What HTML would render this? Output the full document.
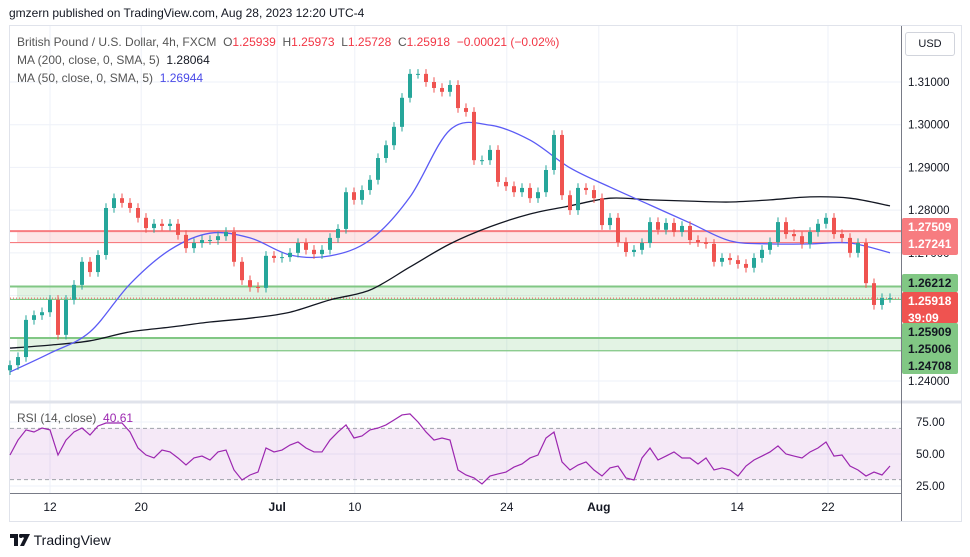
<!DOCTYPE html>
<html><head><meta charset="utf-8"><style>
body{margin:0;width:970px;height:557px;background:#fff;font-family:"Liberation Sans",sans-serif;overflow:hidden;position:relative}
.t{position:absolute;white-space:nowrap}
</style></head><body>
<div class="t" style="left:9px;top:6px;font-size:12px;color:#131722">gmzern published on TradingView.com, Aug 28, 2023 12:20 UTC-4</div>
<svg id="c" width="970" height="557" style="position:absolute;left:0;top:0" font-family="Liberation Sans, sans-serif"></svg>
<div class="t" style="left:17px;top:35px;font-size:12px;color:#555">British Pound / U.S. Dollar, 4h, FXCM&nbsp; O<span style="color:#f23645">1.25939</span>&nbsp; H<span style="color:#f23645">1.25973</span>&nbsp; L<span style="color:#f23645">1.25728</span>&nbsp; C<span style="color:#f23645">1.25918</span>&nbsp; <span style="color:#f23645">−0.00021 (−0.02%)</span></div>
<div class="t" style="left:17px;top:53px;font-size:12px;color:#555">MA (200, close, 0, SMA, 5)&nbsp; <span style="color:#131722">1.28064</span></div>
<div class="t" style="left:17px;top:71px;font-size:12px;color:#555">MA (50, close, 0, SMA, 5)&nbsp; <span style="color:#4a4ae8">1.26944</span></div>
<div class="t" style="left:17px;top:411px;font-size:12px;color:#555">RSI (14, close)&nbsp; <span style="color:#9c27b0">40.61</span></div>
<div class="t" style="left:905px;top:32px;width:48px;height:22px;border:1px solid #d1d4dc;border-radius:3px;font-size:11px;line-height:22px;text-align:center;color:#131722">USD</div>
<div class="t" style="left:10px;top:532px;font-size:14px;color:#131722"><svg width="20" height="12" style="vertical-align:-1px"><path d="M0 0H8V12H4V4H0Z M9 0 H20 L14 12 H10 L14 4 Z" fill="#131722"/><circle cx="11" cy="2" r="2" fill="#131722"/></svg> TradingView</div>
<script>
const closes=[1.2437,1.2456,1.2543,1.2554,1.2561,1.2590,1.2508,1.2590,1.2625,1.2679,1.2655,1.2695,1.2805,1.2828,1.2817,1.2805,1.2782,1.2758,1.2768,1.2763,1.2768,1.2742,1.2711,1.2723,1.2730,1.2730,1.2739,1.2749,1.2679,1.2636,1.2620,1.2618,1.2693,1.2688,1.2690,1.2700,1.2723,1.2707,1.2697,1.2707,1.2735,1.2756,1.2842,1.2824,1.2847,1.2871,1.2922,1.2952,1.2995,1.3063,1.3119,1.3119,1.3100,1.3086,1.3077,1.3093,1.3039,1.3030,1.2917,1.2917,1.2941,1.2866,1.2856,1.2842,1.2852,1.2828,1.2842,1.2894,1.2976,1.2835,1.2800,1.2852,1.2847,1.2828,1.2765,1.2782,1.2725,1.2702,1.2707,1.2723,1.2772,1.2754,1.2770,1.2749,1.2763,1.2730,1.2725,1.2721,1.2679,1.2688,1.2683,1.2674,1.2665,1.2688,1.2707,1.2725,1.2772,1.2744,1.2739,1.2721,1.2749,1.2768,1.2782,1.2744,1.2735,1.2700,1.2723,1.2629,1.2578,1.2594,1.2594];
const maStep=5;
const ma50=[1.2421,1.2465,1.2515,1.2627,1.2707,1.2746,1.2735,1.2695,1.2693,1.2730,1.2831,1.2988,1.2999,1.2964,1.2899,1.2854,1.2812,1.2770,1.2728,1.2721,1.2721,1.2723,1.2700];
const ma200=[1.2477,1.2484,1.2494,1.2515,1.2526,1.2538,1.2547,1.2561,1.2590,1.2613,1.2667,1.2721,1.2761,1.2791,1.2810,1.2828,1.2824,1.2821,1.2819,1.2824,1.2831,1.2828,1.2810];
const rsi=[49.2,60.9,68.8,67.2,70.3,68.8,49.2,60.9,67.2,70.3,64.8,71.9,74.2,74.2,74.2,67.2,54.7,49.2,46.9,53.1,51.6,46.9,41.4,46.9,48.4,45.3,51.6,53.1,37.5,29.7,33.6,35.9,54.7,51.6,53.1,57.0,59.4,54.7,51.6,51.6,60.9,67.2,72.7,62.5,64.1,68.8,70.3,72.7,76.6,80.5,81.3,75.0,67.2,60.9,62.5,60.9,37.5,33.6,31.3,26.6,32.8,34.4,35.9,39.8,42.2,46.9,49.2,62.5,67.2,43.8,37.5,41.4,43.8,37.5,32.8,39.1,40.6,31.3,29.7,46.9,54.7,45.3,48.4,51.6,46.9,46.9,42.2,46.9,37.5,39.1,37.5,32.8,40.6,45.3,48.4,51.6,56.3,50.0,48.4,46.9,51.6,54.7,59.4,48.4,49.2,40.6,37.5,32.8,35.9,33.6,40.6];
const dateLabels=["12","20","Jul","10","24","Aug","14","22"];
const datePos=[5,16.4,33.4,43.1,62.1,73.6,90.9,102.25];
const priceTicks=[1.24,1.25,1.26,1.27,1.28,1.29,1.30,1.31];
const rsiTicks=[75,50,25];
const zones=[[1.27241,1.27509,"#f77c80","rgba(247,124,128,0.2)"],[1.25909,1.26212,"#81c784","rgba(129,199,132,0.22)"],[1.24708,1.25006,"#81c784","rgba(129,199,132,0.22)"]];

const NS="http://www.w3.org/2000/svg",svg=document.getElementById('c');
function el(t,a,p){const e=document.createElementNS(NS,t);for(const k in a)e.setAttribute(k,a[k]);(p||svg).appendChild(e);return e;}
const X=i=>10+8*i, Y=p=>82+(1.31-p)*4271, R=v=>422+(75-v)*1.28;
const PR=901;
let f=el('rect',{x:9.5,y:25.5,width:952,height:496,fill:'none',stroke:'#e0e3eb'});


priceTicks.forEach(p=>{const g=el('line',{x1:10,x2:PR,y1:Y(p),y2:Y(p),stroke:'#eef1f8'});

});
rsiTicks.forEach(v=>{const g=el('line',{x1:10,x2:PR,y1:R(v),y2:R(v),stroke:'#eef1f8'});

});
datePos.forEach(d=>{const g=el('line',{x1:X(d),x2:X(d),y1:26,y2:493,stroke:'#eef1f8'});

});
zones.forEach(z=>{const y1=Y(z[1]),y2=Y(z[0]);
const r=el('rect',{x:17,y:y1,width:PR-17,height:y2-y1,fill:z[3]});


const a=el('line',{x1:10,x2:PR,y1:y1,y2:y1,stroke:z[2],'stroke-width':2});


const b=el('line',{x1:10,x2:PR,y1:y2,y2:y2,stroke:z[2],'stroke-width':1.2});

});
const lastC=closes[closes.length-1];
const pl=el('line',{x1:10,x2:PR,y1:Y(lastC),y2:Y(lastC),stroke:'#ef5350','stroke-dasharray':'1,2'});


function smooth(pts){let d='M'+pts[0][0]+','+pts[0][1];
for(let i=0;i<pts.length-1;i++){const p0=pts[i-1]||pts[i],p1=pts[i],p2=pts[i+1],p3=pts[i+2]||p2;
d+='C'+(p1[0]+(p2[0]-p0[0])/6)+','+(p1[1]+(p2[1]-p0[1])/6)+' '+(p2[0]-(p3[0]-p1[0])/6)+','+(p2[1]-(p3[1]-p1[1])/6)+' '+p2[0]+','+p2[1];}
return d;}
function maPath(arr,col,name){
const p=el('path',{d:smooth(arr.map((v,k)=>[X(k*maStep),Y(v)])),fill:'none',stroke:col,'stroke-width':1.3});

}
maPath(ma200,'#131722','ma200-line');
maPath(ma50,'#5b5bf5','ma50-line');
closes.forEach((c,i)=>{const o=i?closes[i-1]:c-0.0012;const up=c>=o;const col=up?'#26a69a':'#ef5350';
const hi=Math.max(o,c)+0.0011,lo=Math.min(o,c)-0.0011;
const w=el('line',{x1:X(i),x2:X(i),y1:Y(hi),y2:Y(lo),stroke:col});


const yt=Y(Math.max(o,c)),h=Math.max(1,Y(Math.min(o,c))-yt);
const b=el('rect',{x:X(i)-2,y:yt,width:4,height:h,fill:col});

});
const band=el('rect',{x:10,y:R(70),width:PR-10,height:R(30)-R(70),fill:'rgba(156,39,176,0.1)'});


[70,30].forEach(v=>{const l=el('line',{x1:10,x2:PR,y1:R(v),y2:R(v),stroke:'#a0a3ab','stroke-dasharray':'4,3'});

});
const rl=el('path',{d:rsi.map((v,i)=>(i?'L':'M')+X(i)+','+R(v)).join(''),fill:'none',stroke:'#9c27b0','stroke-width':1.2});


const s1=el('line',{x1:10,x2:962,y1:402,y2:402,stroke:'#e0e3eb','stroke-width':3});


const s2=el('line',{x1:PR+.5,x2:PR+.5,y1:26,y2:521,stroke:'#787b86'});


const s3=el('line',{x1:10,x2:PR,y1:493.5,y2:493.5,stroke:'#787b86'});


priceTicks.forEach(p=>{const t=el('text',{x:908,y:Y(p)+4,'font-size':11.5,fill:'#131722'});t.textContent=p.toFixed(5);

});
rsiTicks.forEach(v=>{const t=el('text',{x:916,y:R(v)+4,'font-size':11.5,fill:'#131722'});t.textContent=v.toFixed(2);

});
dateLabels.forEach((s,k)=>{const t=el('text',{x:X(datePos[k]),y:511,'font-size':12,fill:'#131722','text-anchor':'middle','font-weight':(s=='Jul'||s=='Aug')?'bold':'normal'});t.textContent=s;

});
function tag(y1,h,bg,fg,lines,name){const r=el('rect',{x:902,y:y1,width:56,height:h,fill:bg,rx:2});


lines.forEach((s,k)=>{const t=el('text',{x:908,y:y1+13+k*17,'font-size':12,fill:fg,'font-weight':'bold'});t.textContent=s;

});}
tag(218,37,'#f77c80','#fff',['1.27509','1.27241'],'red-zone-tag');
tag(274,18,'#81c784','#131722',['1.26212'],'green-zone-tag');
tag(292,31,'#ef5350','#fff',['1.25918','39:09'],'last-price-tag');
tag(323,51,'#81c784','#131722',['1.25909','1.25006','1.24708'],'support-zone-tags');
</script>
</body></html>
